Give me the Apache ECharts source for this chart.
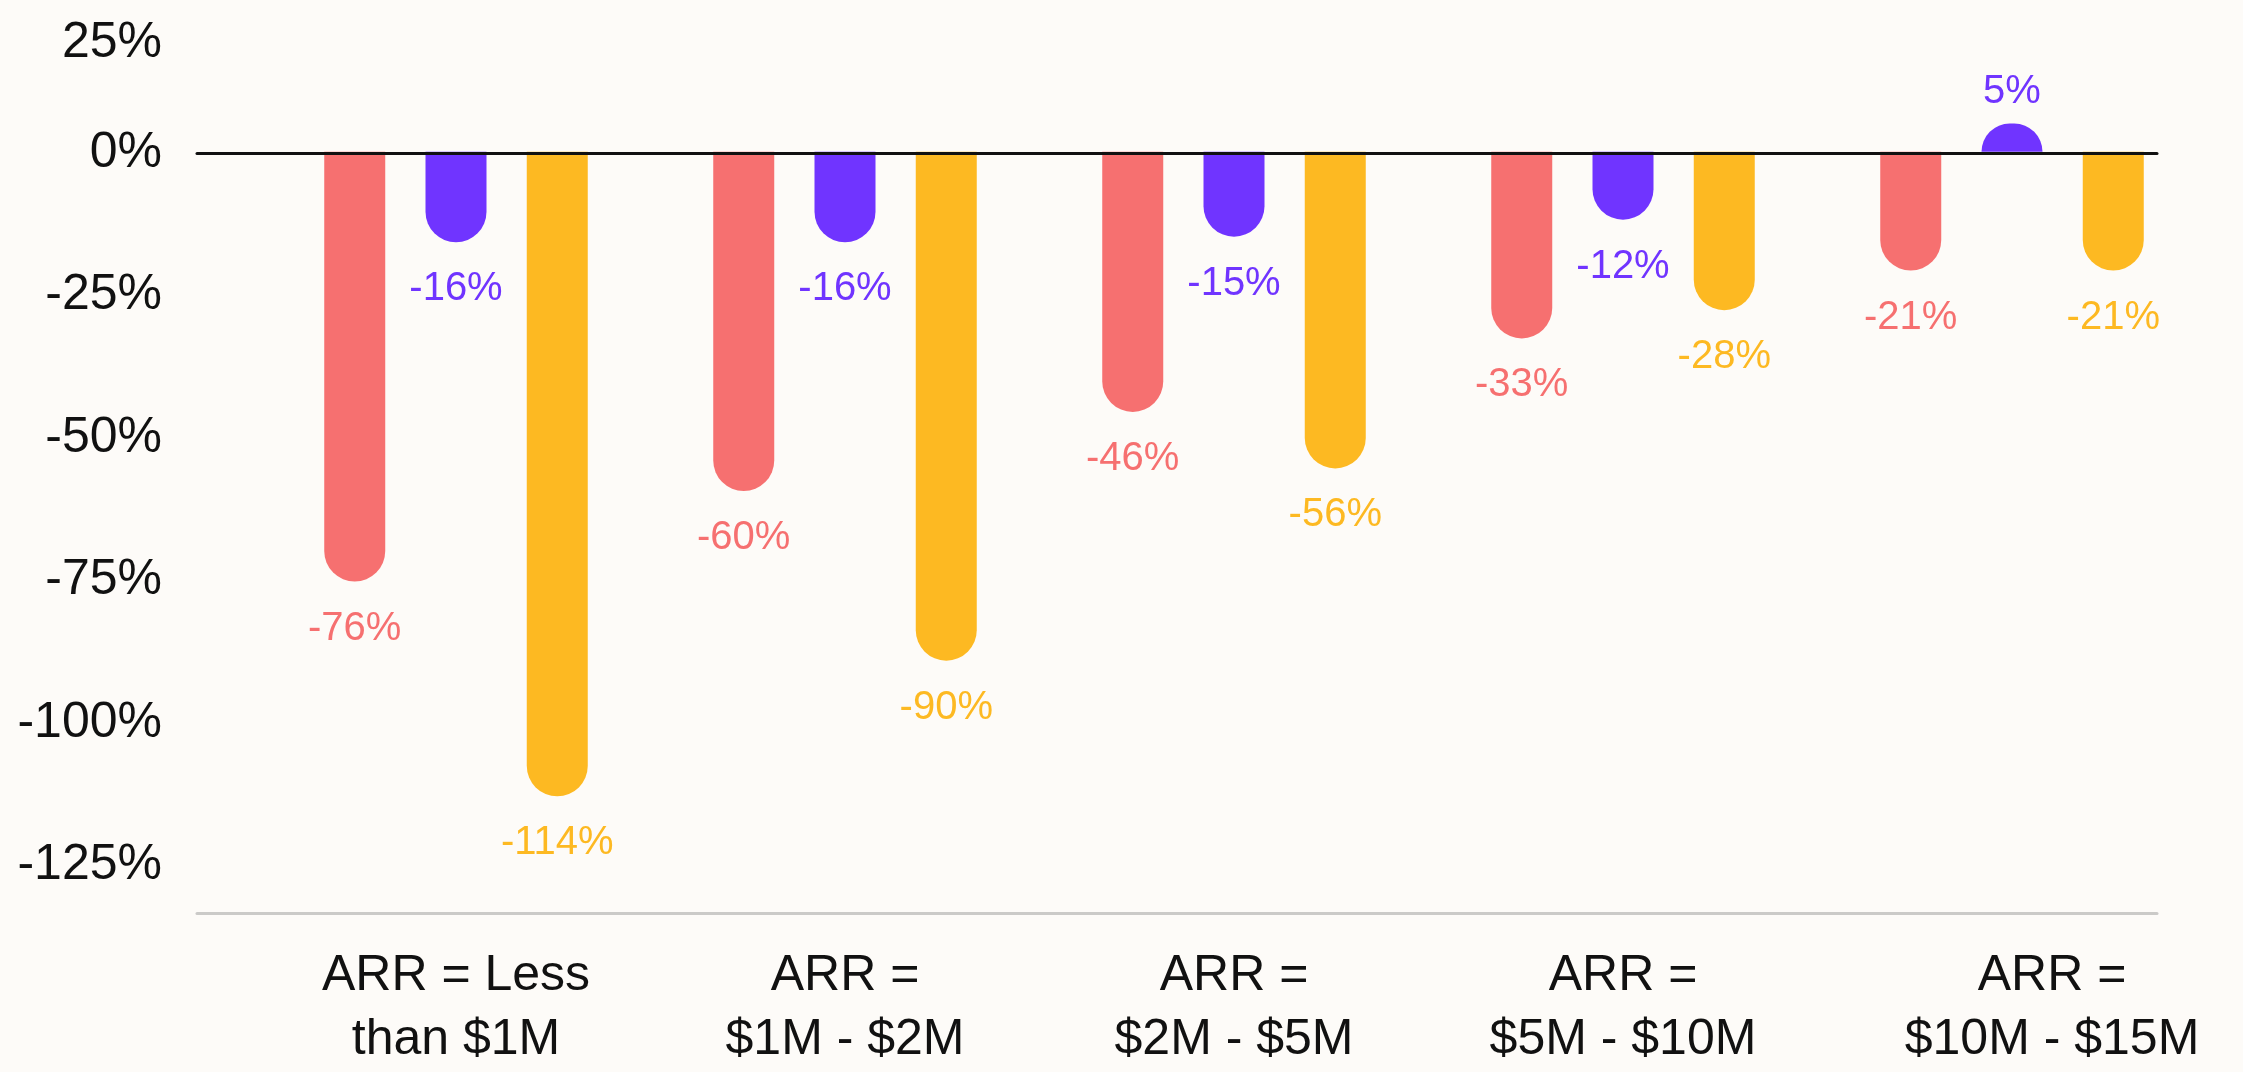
<!DOCTYPE html>
<html>
<head>
<meta charset="utf-8">
<script src="https://cdn.jsdelivr.net/npm/echarts@6/dist/echarts.min.js"></script>
<style>
  html, body { margin: 0; padding: 0; background: #FDFBF8; }
  #chart { width: 2243px; height: 1072px; }
</style>
</head>
<body>
<div id="chart"></div>
<script>
// ARR bands on the category axis
const categories = [
  'ARR = Less\nthan $1M',
  'ARR =\n$1M - $2M',
  'ARR =\n$2M - $5M',
  'ARR =\n$5M - $10M',
  'ARR =\n$10M - $15M'
];
// Percent change per band, one array per series
const seriesA = [-76, -60, -46, -33, -21];
const seriesB = [-16, -16, -15, -12, 5];
const seriesC = [-114, -90, -56, -28, -21];
// Value axis range and step
const yMin = -125;
const yMax = 25;
const yStep = 25;

const colors = ['#F67070', '#7034FF', '#FDB922'];
const axisFont = '"Liberation Sans", Arial, sans-serif';

// Plot geometry (px)
const pxPerUnit = 5.7;
const zeroY = 153;
const gridTop = zeroY - yMax * pxPerUnit;
const gridHeight = (yMax - yMin) * pxPerUnit;
const baseLineOffset = 47.5;

function barSeries(name, values, color) {
  return {
    name: name,
    type: 'bar',
    xAxisIndex: 2,
    yAxisIndex: 1,
    barWidth: 61,
    barGap: '66%',
    itemStyle: { color: color },
    data: values.map(v => ({
      value: v,
      itemStyle: { borderRadius: v < 0 ? [0, 0, 30.5, 30.5] : [30.5, 30.5, 0, 0] },
      label: { position: v < 0 ? 'bottom' : 'top', distance: v < 0 ? 27 : 12 }
    })),
    label: {
      show: true,
      color: color,
      fontFamily: axisFont,
      fontSize: 40,
      formatter: p => p.value + '%'
    },
    z: 2
  };
}

const chart = echarts.init(document.getElementById('chart'), null, { renderer: 'canvas' });
chart.setOption({
  backgroundColor: '#FDFBF8',
  animation: false,
  grid: [
    { left: 197, width: 1960, top: gridTop, height: gridHeight },
    { left: 261.5, width: 1945, top: gridTop, height: gridHeight }
  ],
  xAxis: [
    {
      // zero baseline
      gridIndex: 0, type: 'category', data: categories, position: 'top',
      axisLine: { onZero: true, lineStyle: { color: '#111', width: 3 } },
      axisTick: { show: false }, axisLabel: { show: false }, z: 5
    },
    {
      // bottom rule
      gridIndex: 0, type: 'category', data: categories, position: 'bottom',
      offset: baseLineOffset,
      axisLine: { onZero: false, lineStyle: { color: '#CBCAC8', width: 3 } },
      axisTick: { show: false }, axisLabel: { show: false }
    },
    {
      gridIndex: 1, type: 'category', position: 'bottom', offset: baseLineOffset,
      data: categories.map((c, i) => i === categories.length - 1
        ? { value: c, textStyle: { padding: [0, 0, 0, 80] } }
        : c),
      axisLine: { show: false }, axisTick: { show: false },
      axisLabel: {
        margin: 38, fontSize: 50, lineHeight: 64, color: '#111',
        fontFamily: axisFont, interval: 0
      }
    }
  ],
  yAxis: [
    {
      gridIndex: 0, type: 'value', min: yMin, max: yMax, interval: yStep,
      axisLine: { show: false }, axisTick: { show: false }, splitLine: { show: false },
      axisLabel: {
        margin: 35, fontSize: 50, color: '#111', fontFamily: axisFont,
        formatter: v => v === yMax ? '{t|' + v + '%}' : v + '%',
        rich: { t: { fontSize: 50, color: '#111', fontFamily: axisFont, padding: [66, 0, 0, 0] } }
      }
    },
    {
      gridIndex: 1, type: 'value', min: yMin, max: yMax, interval: yStep, show: false
    }
  ],
  series: [
    barSeries('Series A', seriesA, colors[0]),
    barSeries('Series B', seriesB, colors[1]),
    barSeries('Series C', seriesC, colors[2])
  ]
});
</script>
</body>
</html>
